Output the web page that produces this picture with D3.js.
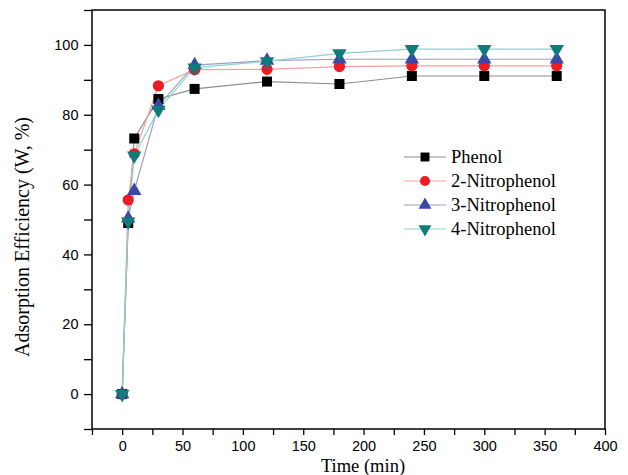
<!DOCTYPE html>
<html>
<head>
<meta charset="utf-8">
<script src="https://cdn.jsdelivr.net/npm/d3@7"></script>
<style>
  body { margin: 0; background: #fff; }
  svg { display: block; }
</style>
</head>
<body>
<script>
// ===================================================================

const WIDTH = 628
const HEIGHT = 475
const LEFT = 92
const RIGHT = 605
const TOP = 10
const BOTTOM = 429

// data
const times = [ 0, 5, 10, 30, 60, 120, 180, 240, 300, 360 ]
const seriesNames = [ 'Phenol', '2-Nitrophenol', '3-Nitrophenol', '4-Nitrophenol' ]
const phenol = [ 0, 49, 73.2, 84.5, 87.4, 89.5, 88.8, 91.1, 91.1, 91.1 ]
const nitro2 = [ 0, 55.6, 68.8, 88.3, 92.9, 93, 93.8, 94, 94, 94 ]
const nitro3 = [ 0, 50.3, 58.2, 82.6, 94.2, 95.5, 95.9, 95.9, 95.9, 95.9 ]
const nitro4 = [ 0, 49.4, 68.3, 81.4, 93.5, 95.3, 97.6, 98.8, 98.8, 98.8 ]
const xTicks = [ 0, 50, 100, 150, 200, 250, 300, 350, 400 ]
const yTicks = [ 0, 20, 40, 60, 80, 100 ]

// ===================================================================

const SERIF = '"Liberation Serif", "Times New Roman", serif'
const SANS = '"Liberation Sans", Arial, sans-serif'

const STYLES = [
  { line: '#8e8e8e', fill: '#000000', symbol: d3.symbolSquare, size: 100, rotate: 0 },
  { line: '#f4a0a0', fill: '#ec1c24', symbol: d3.symbolCircle, size: 100, rotate: 0 },
  { line: '#9a9ad6', fill: '#3a48a6', symbol: d3.symbolTriangle, size: 90, rotate: 0 },
  { line: '#8ed2ca', fill: '#0f7b7a', symbol: d3.symbolTriangle, size: 90, rotate: 180 }
]

const series = [ phenol, nitro2, nitro3, nitro4 ].map((values, i) => ({
  name: seriesNames[i],
  style: STYLES[i],
  points: values.map((v, j) => ({ t: times[j], v }))
}))

const x = d3.scaleLinear().domain([ -25, 400 ]).range([ LEFT, RIGHT ])
const y = d3.scaleLinear().domain([ -10, 110 ]).range([ BOTTOM, TOP ])

const svg = d3.select('body').append('svg')
  .attr('width', WIDTH)
  .attr('height', HEIGHT)

// frame
svg.append('rect')
  .attr('x', LEFT).attr('y', TOP)
  .attr('width', RIGHT - LEFT).attr('height', BOTTOM - TOP)
  .attr('fill', 'none').attr('stroke', '#000').attr('stroke-width', 1.5)

const xAxis = svg.append('g')
  .attr('transform', `translate(0, ${BOTTOM})`)
  .call(d3.axisBottom(x).tickValues(d3.range(-25, 401, 25)).tickSize(6)
    .tickFormat(d => xTicks.includes(d) ? d : ''))
const yAxis = svg.append('g')
  .attr('transform', `translate(${LEFT}, 0)`)
  .call(d3.axisLeft(y).tickValues(d3.range(-10, 111, 10)).tickSize(8)
    .tickFormat(d => yTicks.includes(d) ? d : ''))

for (const g of [ xAxis, yAxis ]) {
  g.select('.domain').remove()
  g.selectAll('line').attr('stroke', '#000').attr('stroke-width', 1.3)
  g.selectAll('text')
    .attr('fill', '#000')
    .style('font-family', SANS)
    .style('font-size', '14.5px')
}
xAxis.selectAll('text').attr('dy', '0.9em')
yAxis.selectAll('text').attr('dx', '-2.5')

// axis titles
svg.append('text')
  .attr('x', 363).attr('y', 472)
  .attr('text-anchor', 'middle')
  .style('font-family', SERIF)
  .style('font-size', '18.5px')
  .text('Time (min)')
svg.append('text')
  .attr('transform', `translate(29, 237) rotate(-90)`)
  .attr('text-anchor', 'middle')
  .style('font-family', SERIF)
  .style('font-size', '20px')
  .text('Adsorption Efficiency (W, %)')

const line = d3.line().x(d => x(d.t)).y(d => y(d.v))

series.forEach(s => {
  svg.append('path')
    .datum(s.points)
    .attr('d', line)
    .attr('fill', 'none')
    .attr('stroke', s.style.line)
    .attr('stroke-width', 1.2)
})

series.forEach(s => {
  const sym = d3.symbol().type(s.style.symbol).size(s.style.size)
  svg.append('g').selectAll('path')
    .data(s.points)
    .join('path')
      .attr('d', sym)
      .attr('transform', d => `translate(${x(d.t)}, ${y(d.v)}) rotate(${s.style.rotate})`)
      .attr('fill', s.style.fill)
})

// legend
const legend = svg.append('g').attr('transform', 'translate(404, 157)')
series.forEach((s, i) => {
  const row = legend.append('g').attr('transform', `translate(0, ${i * 24})`)
  row.append('line')
    .attr('x1', 0).attr('x2', 42)
    .attr('stroke', s.style.line).attr('stroke-width', 1.2)
  row.append('path')
    .attr('d', d3.symbol().type(s.style.symbol).size(s.style.size * 0.8))
    .attr('transform', `translate(21, 0) rotate(${s.style.rotate})`)
    .attr('fill', s.style.fill)
  row.append('text')
    .attr('x', 47).attr('y', 0).attr('dy', '0.35em')
    .style('font-family', SERIF)
    .style('font-size', '18.5px')
    .text(s.name)
})
</script>
</body>
</html>
